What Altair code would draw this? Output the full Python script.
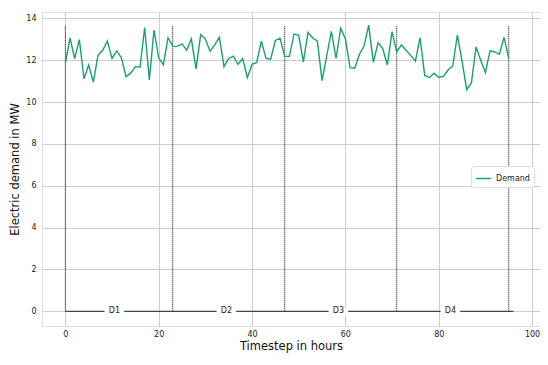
import altair as alt
import pandas as pd

demand = [11.84, 13.06, 12.08, 12.98, 11.11, 11.77, 10.95, 12.23, 12.47, 12.92,
          12.08, 12.44, 12.12, 11.22, 11.38, 11.69, 11.66, 13.56, 11.06, 13.44,
          12.11, 11.77, 13.07, 12.67, 12.66, 12.78, 12.47, 13.02, 11.58, 13.22,
          13.02, 12.42, 12.73, 13.09, 11.69, 12.08, 12.19, 11.80, 12.08, 11.17,
          11.80, 11.89, 12.91, 12.08, 12.05, 12.94, 13.05, 12.18, 12.18, 13.25,
          13.20, 11.92, 13.33, 13.06, 12.91, 11.02, 12.20, 13.38, 12.08, 13.52,
          13.02, 11.64, 11.61, 12.27, 12.67, 13.67, 11.89, 12.83, 12.55, 11.77,
          13.36, 12.39, 12.73, 12.47, 12.23, 11.95, 13.08, 11.27, 11.17, 11.38,
          11.17, 11.22, 11.53, 11.72, 13.20, 11.95, 10.59, 10.91, 12.63, 12.00,
          11.41, 12.44, 12.39, 12.28, 13.09, 12.08]
timesteps = list(range(len(demand)))
boundaries = [0, 23, 47, 71, 95]
day_labels = ["D1", "D2", "D3", "D4"]
day_label_x = [10.5, 34.5, 58.5, 82.5]
baseline_start = [0]
baseline_end = [96]

FONT = "DejaVu Sans"
GREEN = "#1b9e77"

df = pd.DataFrame({"t": timesteps, "demand": demand, "series": "Demand"})
vdf = pd.DataFrame({"x": boundaries, "y0": 0, "y1": max(demand)})
hdf = pd.DataFrame({"x": baseline_start, "x2": baseline_end, "y": [0]})
ldf = pd.DataFrame({"label": day_labels, "x": day_label_x, "y": 0})
ldf["xa"] = ldf["x"] - 2.1
ldf["xb"] = ldf["x"] + 2.1
ldf["ya"] = -0.18
ldf["yb"] = 0.18

xscale = alt.Scale(domain=[-5, 101.7], nice=False, zero=False)
yscale = alt.Scale(domain=[-0.7, 14.3], nice=False, zero=False)

xaxis = alt.Axis(title="Timestep in hours", values=[0, 20, 40, 60, 80, 100],
                 grid=True, gridColor="#cccccc", gridWidth=1, domain=False, ticks=False,
                 labelFont=FONT, labelFontSize=8, labelColor="#222222", labelPadding=4,
                 titleFont=FONT, titleFontSize=11.5, titleFontWeight="normal",
                 titleColor="#111111", titlePadding=2)
yaxis = alt.Axis(title="Electric demand in MW", values=[0, 2, 4, 6, 8, 10, 12, 14],
                 grid=True, gridColor="#cccccc", gridWidth=1, domain=False, ticks=False,
                 labelFont=FONT, labelFontSize=8, labelColor="#222222", labelPadding=6,
                 titleFont=FONT, titleFontSize=11.5, titleFontWeight="normal",
                 titleColor="#111111", titlePadding=5)

line = alt.Chart(df).mark_line(strokeWidth=1.4).encode(
    x=alt.X("t:Q", scale=xscale, axis=xaxis),
    y=alt.Y("demand:Q", scale=yscale, axis=yaxis),
    color=alt.Color("series:N", scale=alt.Scale(domain=["Demand"], range=[GREEN]),
                    legend=alt.Legend(title=None, orient="none", legendX=429, legendY=154,
                                      labelFont=FONT, labelFontSize=8, labelColor="#222222",
                                      symbolType="stroke", symbolStrokeWidth=1.5, symbolSize=220,
                                      padding=4, strokeColor="#dddddd", fillColor="white",
                                      cornerRadius=3)),
)

vrules = alt.Chart(vdf).mark_rule(color="black", strokeWidth=1, strokeDash=[1, 1]).encode(
    x="x:Q", y="y0:Q", y2="y1:Q")

hrule = alt.Chart(hdf).mark_rule(color="#444444", strokeWidth=1.2).encode(
    x="x:Q", x2="x2:Q", y="y:Q")

boxes = alt.Chart(ldf).mark_rect(color="white").encode(
    x="xa:Q", x2="xb:Q", y="ya:Q", y2="yb:Q")

texts = alt.Chart(ldf).mark_text(font=FONT, fontSize=8, color="#222222", baseline="middle").encode(
    x="x:Q", y="y:Q", text="label:N")

chart = alt.layer(vrules, hrule, boxes, texts, line).properties(
    width=498, height=314,
    padding={"left": 34, "top": 4, "right": 0, "bottom": 27},
    autosize=alt.AutoSizeParams(type="none"),
).configure_view(stroke="#cccccc", strokeWidth=1).configure(background="white")

chart.save("out.html", embed_options={"renderer": "svg", "actions": False})
